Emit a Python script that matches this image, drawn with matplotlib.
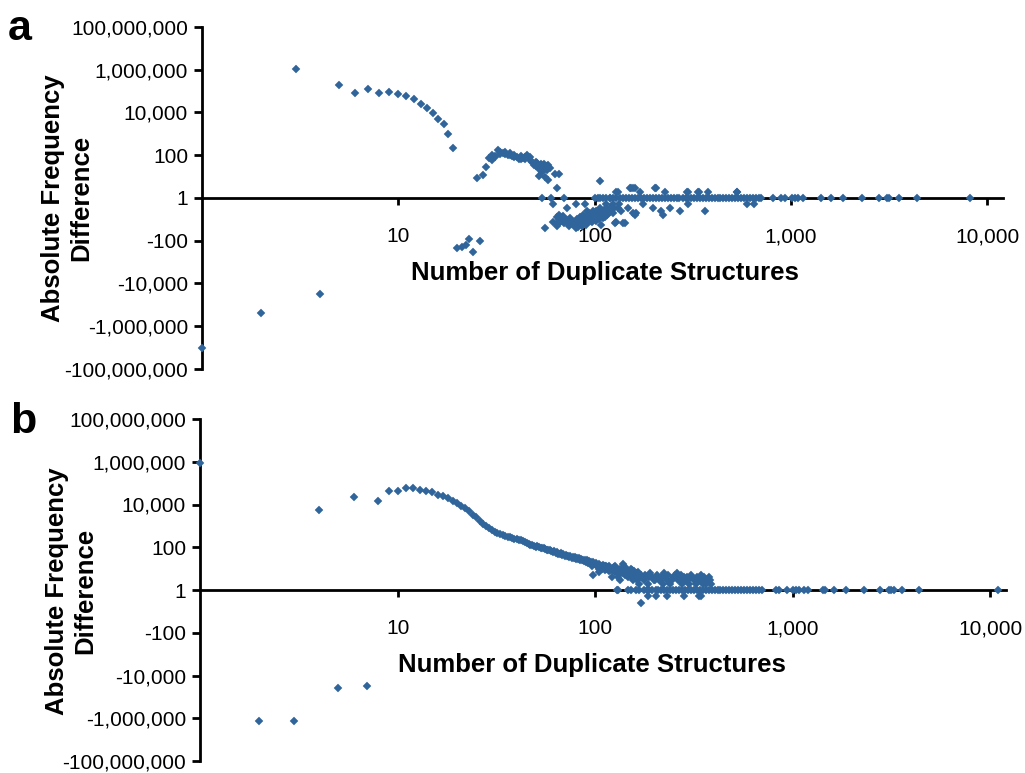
import numpy as np
import matplotlib
matplotlib.use("Agg")
import matplotlib.pyplot as plt
from matplotlib.ticker import FixedLocator, FixedFormatter, NullLocator

plt.rcParams['font.family'] = ['Liberation Sans', 'DejaVu Sans']

# ---------------- data: panel a ----------------
a_head_x = [1, 2, 3, 4, 5, 6, 7, 8, 9, 10, 11, 12, 13, 14, 15, 16, 17, 18, 19,
            20, 21, 22, 23, 24, 26]
a_head_y = [-10700000, -246000, 1050000, -32000, 195000, 79000, 121000, 79000, 91000,
            74000, 59000, 41000, 25000, 16000, 9100, 5000, 2800, 950, 210,
            -220, -195, -160, -83, -350, -102]

a_hump_x = [25, 27, 28, 29, 30, 30, 31, 32, 33, 34, 35, 36, 37, 38, 39, 40, 41, 42, 43, 44,
            45, 46, 47, 48, 49, 50, 51, 52, 52, 53, 54, 55, 56, 57, 58, 58, 59, 63, 64, 66,
            54, 60, 61, 70, 72, 80, 89, 100, 104, 107,
            31, 33, 35, 37, 39, 42, 44, 47, 50, 53, 55, 57]
a_hump_y = [9, 12, 29, 72, 100, 62, 80, 178, 147, 130, 115, 100, 123, 92, 85, 80, 65, 70, 72, 85,
            100, 72, 60, 50, 35, 31, 45, 22, 11, 28, 17, 25, 10, 31, 35, 7, 25, 13, 3, 13,
            1, 1, -2, 1, -3, -2, -2, 1, 1, 6,
            95, 120, 140, 100, 105, 90, 70, 80, 50, 40, 40, 20]

a_band_x = [56, 61, 64, 64, 66, 66, 69, 69, 70, 71,
            72, 73, 75, 75, 76, 78, 78, 79, 81, 81,
            82, 84, 84, 85, 87, 87, 89, 91, 91, 92,
            94, 94, 96, 98, 98, 100, 102, 102, 104, 106,
            106, 108, 110, 110, 112, 114, 114, 117, 119, 119,
            124, 124, 127, 128, 131, 136, 139, 142, 147, 157,
            160, 163,
            65, 68, 74, 77, 80, 83, 86, 88, 90, 93,
            95, 97, 99, 101, 103, 105, 107, 109, 111, 113,
            116, 118, 121, 122, 126, 133]
a_band_y = [-24, -13, -20, -8, -11, -6, -7, -9, -15, -11,
            -11, -13, -9, -15, -11, -13, -18, -13, -10, -15,
            -22, -8, -13, -9, -6, -15, -11, -4, -8, -13,
            -5, -9, -6, -4, -8, -5, -4, -9, -6, -3,
            -5, -18, -4, -9, -5, -2, -3, -4, -1, -3,
            -2, -5, -15, -13, -3, -4, -15, -15, -3, -5,
            -6, -5,
            -16, -12, -20, -16, -24, -18, -20, -14, -18, -10,
            -12, -14, -10, -12, -7, -10, -7, -6, -7, -8,
            -6, -5, -4, -3, -3, -2]

a_scatter_x = [128, 131, 151, 153, 157, 160, 170, 202, 205, 228, 294, 297, 335, 339, 378, 530, 532,
               176, 198, 218, 223, 242, 271, 300, 363, 594, 650]
a_scatter_y = [2, 2, 3, 3, 3, 3, 2, 3, 3, 2, 2, 2, 2, 2, 2, 2, 2,
               -2, -3, -4, -6, -3, -4, -2, -4, -2, -2]

a_axis_x = [106, 110, 114, 119, 124, 129, 134, 139, 144,
            149, 154, 160, 166, 172, 178, 185, 192, 199,
            206, 213, 220, 228, 236, 244, 252, 261, 270,
            280, 290, 300, 310, 321, 332, 344, 356, 368,
            381, 394, 408, 422, 437, 452, 468, 484, 501,
            518, 536, 555, 575, 595, 616, 638, 660, 683,
            700, 812, 888, 930, 1006, 1051, 1090, 1153, 1423,
            1594, 1846, 2309, 2790, 3078, 3136, 3553, 4353, 8178]
a_axis_y = [1, 1, 1, 1, 1, 1, 1, 1, 1,
            1, 1, 1, 1, 1, 1, 1, 1, 1,
            1, 1, 1, 1, 1, 1, 1, 1, 1,
            1, 1, 1, 1, 1, 1, 1, 1, 1,
            1, 1, 1, 1, 1, 1, 1, 1, 1,
            1, 1, 1, 1, 1, 1, 1, 1, 1,
            1, 1, 1, 1, 1, 1, 1, 1, 1,
            1, 1, 1, 1, 1, 1, 1, 1, 1]

# ---------------- data: panel b ----------------
b_head_x = [1, 2, 3, 4, 5, 6, 7, 8, 9, 10,
            11, 12, 13, 14, 15, 16, 17, 18, 19, 20,
            21, 22, 23, 24, 25, 26, 27, 28, 29, 30,
            31, 32, 33, 34, 35, 36, 37, 38, 39, 40]
b_head_y = [850000, -1400000, -1400000, 5500, -40000, 22000, -30000, 14000, 44000, 44000,
            57000, 57000, 49000, 44000, 37000, 29000, 24000, 19500, 15000, 11700,
            8700, 6900, 4800, 3300, 2500, 1740, 1230, 980, 760, 630,
            525, 468, 417, 380, 347, 316, 295, 269, 251, 240]

b_curve_x = [41, 42, 43, 44, 45, 46, 47, 48, 49, 50,
             51, 52, 53, 54, 55, 56, 57, 58, 59, 60,
             61, 62, 63, 64, 65, 66, 67, 68, 69, 70,
             71, 72, 73, 74, 75, 76, 77, 78, 79, 80,
             81, 82, 83, 84, 85, 86, 87, 88, 89, 90,
             91, 92, 93, 94, 95, 96, 97, 98, 99, 100,
             101, 102, 103, 104, 105, 106, 107, 108, 109, 110,
             111, 112, 113, 114, 115, 116, 117, 118, 119, 120]
b_curve_y = [230, 212, 190, 176, 160, 148, 133, 122, 112, 104,
             110, 98, 95, 88, 90, 82, 78, 72, 76, 66,
             62, 64, 56, 58, 50, 47, 52, 44, 46, 40,
             43, 38, 41, 35, 37, 33, 36, 30, 34, 29,
             31, 27, 30, 25, 28, 24, 26, 22, 25, 21,
             24, 19, 22, 18, 21, 14, 20, 5, 17, 16,
             19, 13, 15, 7, 16, 12, 14, 10, 13, 15,
             11, 13, 12, 14, 10, 12, 8, 11, 9, 10]

b_tail_x = [121, 122, 123, 124, 125, 126, 127, 128, 129, 130,
            131, 132, 133, 134, 135, 136, 137, 138, 139, 140,
            141, 142, 143, 144, 145, 146, 147, 148, 149, 150,
            152, 153, 155, 156, 158, 160, 162, 163, 165, 166,
            168, 170, 173, 176, 178, 180, 184, 187, 190, 195,
            198, 200, 205, 210, 216, 220, 223, 230, 238, 246,
            253, 261, 268, 276, 285, 290, 300, 310, 323, 334,
            350, 360, 370, 384,
            104, 112, 118, 126, 133, 144, 151, 158, 164,
            206, 213, 226, 235, 242, 250, 258, 264, 272, 280,
            295, 305, 316, 328, 340, 345, 355, 365, 375, 380,
            170, 184, 203, 232, 281, 335, 344]
b_tail_y = [9, 4, 11, 9, 12, 7, 10, 11, 8, 9,
            4, 7, 10, 3, 8, 9, 7, 6, 17, 8,
            5, 6, 8, 7, 9, 4, 6, 7, 7, 5,
            8, 9, 3, 4, 6, 6, 5, 3, 7, 2,
            4, 5, 4, 3, 5, 4, 2, 4, 6, 4,
            3, 3, 4, 3, 4, 2, 6, 3, 2, 3,
            5, 4, 3, 2, 3, 4, 2, 4, 2, 3,
            2, 3, 3, 2,
            10, 9, 14, 13, 6, 11, 10, 8, 5,
            5, 3, 4, 5, 3, 4, 6, 3, 5, 4,
            3, 5, 3, 4, 3, 5, 4, 2, 4, 3,
            -4, -2, -2, -2, -2, -2, -2]

b_axis_x = [129, 131, 146, 151, 160, 166, 176, 182, 188,
            195, 202, 209, 216, 224, 232, 240, 248, 257,
            266, 275, 285, 295, 305, 316, 327, 338, 350,
            362, 375, 388, 402, 416, 430, 445, 461, 477,
            494, 511, 529, 547, 566, 586, 607, 628, 650,
            673, 697, 823, 855, 931, 1000, 1040, 1080, 1145,
            1190, 1428, 1462, 1625, 1863, 2305, 2748, 3065, 3150,
            3236, 3580, 4348, 10920]
b_axis_y = [1, 1, 1, 1, 1, 1, 1, 1, 1,
            1, 1, 1, 1, 1, 1, 1, 1, 1,
            1, 1, 1, 1, 1, 1, 1, 1, 1,
            1, 1, 1, 1, 1, 1, 1, 1, 1,
            1, 1, 1, 1, 1, 1, 1, 1, 1,
            1, 1, 1, 1, 1, 1, 1, 1, 1,
            1, 1, 1, 1, 1, 1, 1, 1, 1,
            1, 1, 1, 1]

# ---------------- ticks ----------------
y_ticks = [-1e8, -1e6, -1e4, -100, 1, 100, 1e4, 1e6, 1e8]
y_tick_labels = ['-100,000,000', '-1,000,000', '-10,000', '-100', '1',
                 '100', '10,000', '1,000,000', '100,000,000']
x_ticks = [10, 100, 1000, 10000]
x_tick_labels = ['10', '100', '1,000', '10,000']

x_label = 'Number of Duplicate Structures'
y_label = 'Absolute Frequency\nDifference'

COLOR = '#30659B'
W, H = 1025, 773


def fwd(v):
    v = np.asarray(v, dtype=float)
    return np.sign(v) * np.log10(np.maximum(np.abs(v), 1.0))


def inv(t):
    t = np.asarray(t, dtype=float)
    return np.sign(t) * 10.0 ** np.abs(t)


fig = plt.figure(figsize=(W / 100, H / 100), dpi=100)


def make_panel(rect, xs, ys):
    l, t, r, b = rect
    ax = fig.add_axes([l / W, 1 - b / H, (r - l) / W, (b - t) / H])
    ax.set_xscale('log')
    ax.set_yscale('function', functions=(fwd, inv))
    ax.plot(xs, ys, ls='none', marker='D', ms=4.3, mfc=COLOR, mec=COLOR,
            mew=0.3, clip_on=False, zorder=3)
    ax.set_xlim(1, 12000)
    ax.set_ylim(-1e8, 1e8)
    for s in ('top', 'right'):
        ax.spines[s].set_visible(False)
    ax.spines['bottom'].set_position(('data', 1))
    ax.spines['bottom'].set_linewidth(2.0)
    ax.spines['left'].set_linewidth(2.0)
    ax.xaxis.set_major_locator(FixedLocator(x_ticks))
    ax.xaxis.set_major_formatter(FixedFormatter(x_tick_labels))
    ax.xaxis.set_minor_locator(NullLocator())
    ax.yaxis.set_major_locator(FixedLocator(y_ticks))
    ax.yaxis.set_major_formatter(FixedFormatter(y_tick_labels))
    ax.yaxis.set_minor_locator(NullLocator())
    ax.tick_params(axis='x', direction='out', length=5, width=2.0, pad=16,
                   labelsize=15)
    ax.tick_params(axis='y', direction='out', length=6, width=2.0, pad=4,
                   labelsize=15)
    ax.patch.set_visible(False)
    return ax


ax_a = make_panel((202, 27, 1003, 369), a_head_x + a_hump_x + a_band_x + a_scatter_x + a_axis_x,
                  a_head_y + a_hump_y + a_band_y + a_scatter_y + a_axis_y)
ax_b = make_panel((200, 419, 1006, 761), b_head_x + b_curve_x + b_tail_x + b_axis_x,
                  b_head_y + b_curve_y + b_tail_y + b_axis_y)

lab = dict(fontsize=18.5, fontweight='bold')
fig.text(605 / W, 1 - 280 / H, x_label, ha='center', va='baseline', **lab)
fig.text(592 / W, 1 - 672 / H, x_label, ha='center', va='baseline', **lab)
fig.text(67 / W, 1 - 198 / H, y_label, rotation=90, ha='center', va='center',
         multialignment='center', linespacing=1.2, **lab)
fig.text(71 / W, 1 - 591 / H, y_label, rotation=90, ha='center', va='center',
         multialignment='center', linespacing=1.2, **lab)
fig.text(8 / W, 1 - 40 / H, 'a', fontsize=31, fontweight='bold', va='baseline', ha='left')
fig.text(10 / W, 1 - 433 / H, 'b', fontsize=31, fontweight='bold', va='baseline', ha='left')

fig.savefig('out.png', dpi=100)
